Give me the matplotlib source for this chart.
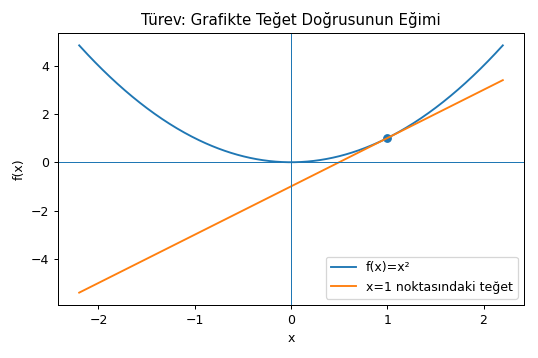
import numpy as np
import matplotlib.pyplot as plt

# f(x) = x^2 and its tangent at x0 = 1
x = np.linspace(-2.2, 2.2, 400)
x0 = 1.0
y0 = x0 ** 2
slope = 2 * x0

y = x ** 2
tangent = y0 + slope * (x - x0)

fig, ax = plt.subplots(figsize=(538 / 90, 358 / 90), dpi=90)
ax.plot(x, y, label="f(x)=x²")
ax.plot(x, tangent, label="x=1 noktasındaki teğet")
ax.scatter([x0], [y0])
ax.axhline(0, linewidth=0.8)
ax.axvline(0, linewidth=0.8)
ax.set_title("Türev: Grafikte Teğet Doğrusunun Eğimi")
ax.set_xlabel("x")
ax.set_ylabel("f(x)")
ax.legend(loc="lower right")
fig.subplots_adjust(left=58 / 538, right=524 / 538, top=1 - 33 / 358, bottom=1 - 305 / 358)
plt.savefig("out.png")
